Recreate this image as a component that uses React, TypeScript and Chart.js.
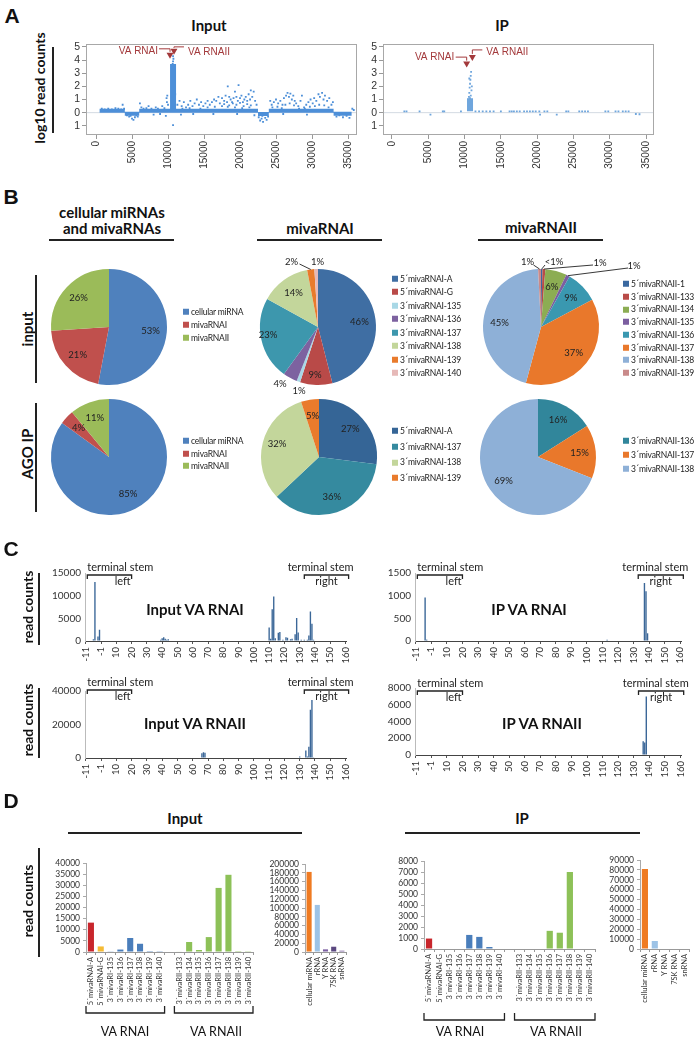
import React, { useEffect, useRef } from "react";
import { Chart, registerables } from "chart.js";

Chart.register(...registerables);

const LATO = "Lato, 'Open Sans', 'DejaVu Sans', sans-serif";
const ARIAL = "'Liberation Sans', Arial, sans-serif";
Chart.defaults.font.family = LATO;
Chart.defaults.color = "#333";

type Pt = [number, number];
type Rect = { l: number; t: number; w: number; h: number };
type Area = { x0: number; y0: number; x1: number; y1: number };

/* ================= Panel A : read coverage along the genome ================= */
const aXTicks = [0, 5000, 10000, 15000, 20000, 25000, 30000, 35000];
const aYTicks = [-1, 0, 1, 2, 3, 4, 5];
const aInputBand: Pt[][] = [
  [[500, 0.15], [4000, 0.15]],
  [[4000, -0.08], [6000, -0.08]],
  [[6000, 0.15], [22500, 0.15]],
  [[22500, -0.1], [24000, -0.1]],
  [[24000, 0.15], [33000, 0.15]],
  [[33000, -0.08], [35500, -0.08]],
];
const aInputPeak: Pt[] = [[10700, 0.2], [10700, 3.7]];
const aInputDots: Pt[] = [
  [800, 0.3], [1200, 0.25], [1700, 0.3], [2200, 0.25], [2700, 0.35], [3100, 0.3], [3500, 0.25], [3700, 0.6], [3900, 0.3],
  [4300, -0.2], [4600, -0.3], [4800, -0.25], [5000, -0.45], [5200, -0.55], [5400, -0.35], [5600, -0.2], [5800, -0.3],
  [6100, 0.7], [6300, 0.4], [6600, 0.3], [7000, 0.35], [7300, 0.5], [7700, 0.3], [8000, -0.15], [8300, 0.4], [8600, 0.3],
  [8900, -0.1], [9200, 0.5], [9500, 0.35], [9700, -0.25], [9800, 1.1], [9850, 0.8], [9900, 1.3], [10000, 0.6],
  [10500, 0.9], [10550, 1.5], [10600, 2.2], [10600, 2.8], [10650, 3.3], [10650, 3.7], [10700, 3.9], [10700, 4.3],
  [10750, 4.1], [10750, 3.5], [10800, 3.0], [10800, 2.5], [10850, 1.8], [10850, 1.2], [10900, 3.6], [10900, 0.7],
  [10950, 2.0], [11000, 1.4], [10700, -0.95],
  [11300, 0.6], [11600, 0.9], [11900, 0.5], [12200, 0.8], [12500, 0.4], [12800, 0.6], [13100, 0.9], [13400, 0.5],
  [13700, 0.7], [14000, 1.0], [14300, 0.6], [14600, 0.8], [14900, 0.5], [15200, 0.7], [15500, 0.9], [15800, 0.6],
  [16100, 0.8], [16400, 1.0], [16700, 0.9], [17000, 1.2], [17200, 0.7], [17500, 1.1], [17800, 0.9], [18000, 1.3],
  [18200, 0.8], [18300, 2.0], [18500, 1.2], [18700, 1.0], [18900, 0.8], [19100, 1.1], [19300, 1.6], [19500, 1.2],
  [19700, 0.9], [19800, 2.1], [20000, 1.1], [20200, 1.3], [20400, 0.8], [20600, 1.0], [20800, 1.2], [21000, 0.9],
  [21200, 1.4], [21400, 1.0], [21500, 1.7], [21700, 1.2], [21900, 1.6], [22100, 0.9], [22300, 0.6],
  [12000, 0.3], [13000, 0.35], [14500, 0.3], [15500, 0.4], [16500, 0.45], [17500, 0.5], [18500, 0.55], [19500, 0.6],
  [20500, 0.5], [21500, 0.55], [17800, 0.65], [19000, 0.7], [20000, 0.75], [21000, 0.65], [18300, 0.45], [19300, 0.4],
  [20300, 0.35], [21300, 0.4], [11800, -0.15], [13500, -0.1], [16300, -0.1], [19600, -0.1], [22000, -0.2],
  [22600, -0.35], [22800, -0.6], [23000, -0.45], [23200, -0.7], [23500, -0.4], [23700, -0.55], [23900, -0.3], [23100, -0.25],
  [24200, 0.9], [24400, 0.6], [24700, 0.8], [25000, 1.0], [25300, 0.7], [25600, 0.9], [25900, 0.6], [26100, 1.1],
  [26400, 1.3], [26600, 1.5], [26800, 1.2], [27000, 1.45], [27200, 1.0], [27400, 1.3], [27600, 0.9], [27800, 0.7],
  [28100, 0.5], [28400, 0.9], [28600, 1.3], [28900, 0.4], [29200, 0.6], [29500, 0.8], [29800, 1.0], [30100, 0.7],
  [30300, 1.1], [30600, 0.9], [30900, 1.4], [31100, 1.2], [31400, 1.5], [31600, 1.0], [31800, 1.3], [32100, 0.9],
  [32400, 1.1], [32700, 0.6], [32900, 0.8],
  [24500, 0.4], [25200, 0.45], [25800, 0.35], [26300, 0.6], [26900, 0.7], [27500, 0.55], [28200, 0.3], [29000, 0.3],
  [29700, 0.45], [30400, 0.5], [31000, 0.6], [31700, 0.55], [32300, 0.4], [26000, -0.1], [29300, -0.15],
  [33400, -0.3], [33800, -0.2], [34300, -0.35], [34800, -0.25], [35200, -0.4], [35600, 0.3], [35800, 0.2],
];
const aInputMarks: Pt[] = [[10280, 4.4], [10830, 4.7]];
const aIPPeak: Pt[] = [[10750, 0.1], [10750, 1.1]];
const aIPDots: Pt[] = [
  [10500, 0.2], [10500, 0.5], [10550, 0.8], [10550, 1.0], [10600, 0.6], [10600, 1.2], [10650, 0.9], [10650, 1.5],
  [10700, 0.7], [10700, 1.9], [10750, 1.1], [10750, 2.2], [10800, 0.5], [10800, 2.5], [10850, 1.3], [10850, 2.8],
  [10900, 0.9], [10900, 3.1], [10950, 1.7], [11000, 0.4], [11000, 2.0], [10600, 0.3], [10700, 0.4], [10650, 2.6],
  [1700, 0.1], [2000, 0.1], [3800, 0.1], [7000, 0.1], [7200, 0.1], [9500, 0.1], [11500, 0.1], [12000, 0.1],
  [12500, 0.1], [13000, 0.1], [13500, 0.1], [14000, 0.1], [15000, 0.1], [16200, 0.1], [16500, 0.1], [16800, 0.1],
  [17200, 0.1], [17600, 0.1], [18200, 0.1], [18600, 0.1], [19000, 0.1], [19400, 0.1], [19800, 0.1], [20300, 0.1],
  [21000, 0.1], [21400, 0.1], [24000, 0.1], [24300, 0.1], [25800, 0.1], [26200, 0.1], [26600, 0.1], [27000, 0.1],
  [29400, 0.1], [29800, 0.1], [30800, 0.1], [31200, 0.1], [31800, 0.1], [32200, 0.1], [32600, 0.1],
  [5300, -0.15], [20400, -0.15], [22700, -0.15], [33600, -0.1], [34100, -0.12],
];
const aIPMarks: Pt[] = [[10290, 3.73], [11070, 4.24]];
const aMarkNames = ["VA RNAI", "VA RNAII"];

/* ================= Panel B : pie charts ================= */
const b1Labels = ["cellular miRNA", "mivaRNAI", "mivaRNAII"];
const b1Colors = ["#4f81bd", "#c0504d", "#9bbb59"];
const b1Input = [53, 21, 26];
const b1IP = [85, 4, 11];

const b2InLabels = ["5´mivaRNAI-A", "5´mivaRNAI-G", "3´mivaRNAI-135", "3´mivaRNAI-136", "3´mivaRNAI-137", "3´mivaRNAI-138", "3´mivaRNAI-139", "3´mivaRNAI-140"];
const b2InColors = ["#3f6ea3", "#b94a48", "#a9d8e6", "#7d62a0", "#3d97ad", "#c3d69b", "#e97b2c", "#e6b9b8"];
const b2Input = [46, 9, 1, 4, 23, 14, 2, 1];
const b2IPLabels = ["5´mivaRNAI-A", "3´mivaRNAI-137", "3´mivaRNAI-138", "3´mivaRNAI-139"];
const b2IPColors = ["#356596", "#358a9f", "#c3d69b", "#e97b2c"];
const b2IP = [27, 36, 32, 5];

const b3InLabels = ["5´mivaRNAII-1", "3´mivaRNAII-133", "3´mivaRNAII-134", "3´mivaRNAII-135", "3´mivaRNAII-136", "3´mivaRNAII-137", "3´mivaRNAII-138", "3´mivaRNAII-139"];
const b3InColors = ["#3a68a0", "#b94b48", "#8cad53", "#7b5ea0", "#3a98b0", "#e9782b", "#8eb0d7", "#c98a8a"];
const b3Input = [0.4, 0.8, 6, 1, 9, 37, 45, 0.8];
const b3IPLabels = ["3´mivaRNAII-136", "3´mivaRNAII-137", "3´mivaRNAII-138"];
const b3IPColors = ["#31869b", "#e9782b", "#8eb0d7"];
const b3IP = [16, 15, 69];

/* ================= Panel C : read counts per position ================= */
const cPositions: number[] = [];
for (let p = -11; p <= 160; p++) if (p !== 0) cPositions.push(p);
const cInVA1Pos = [-6, -5, -3, -2, 39, 40, 41, 42, 43, 44, 110, 111, 112, 113, 114, 116, 117, 119, 121, 122, 124, 125, 127, 128, 129, 131, 133, 135, 136, 137, 138, 139];
const cInVA1Val = [400, 13000, 1000, 2500, 300, 600, 800, 500, 300, 400, 3000, 500, 7000, 9800, 600, 1800, 2000, 300, 800, 700, 400, 500, 1500, 5100, 1900, 300, 300, 300, 1200, 6500, 3800, 300];
const cIPVA1Pos = [-5, -4, 113, 137, 138, 139];
const cIPVA1Val = [960, 30, 30, 1280, 1100, 170];
const cInVA2Pos = [66, 67, 68, 112, 130, 134, 135, 136, 137, 138, 139];
const cInVA2Val = [2800, 3500, 3200, 300, 900, 4500, 900, 6700, 28800, 34700, 400];
const cIPVA2Pos = [136, 137, 138];
const cIPVA2Val = [1650, 1480, 7000];

/* ================= Panel D : read counts per species ================= */
const dMainLabels = ["5´mivaRNAI-A", "5´mivaRNAI-G", "3´mivaRI-135", "3´mivaRI-136", "3´mivaRI-137", "3´mivaRI-138", "3´mivaRI-139", "3´mivaRI-140", "",
  "3´mivaRII-133", "3´mivaRII-134", "3´mivaRII-135", "3´mivaRII-136", "3´mivaRII-137", "3´mivaRII-138", "3´mivaRII-139", "3´mivaRII-140"];
const dMainColors = ["#c8262c", "#f5bb35", "#4a7ebb", "#4a7ebb", "#4a7ebb", "#4a7ebb", "#4a7ebb", "#4a7ebb", "#fff",
  "#8dc158", "#8dc158", "#8dc158", "#8dc158", "#8dc158", "#8dc158", "#8dc158", "#8dc158"];
const dInMain = [13200, 2500, 300, 1100, 6300, 3700, 400, 100, null, 200, 4500, 900, 6700, 28800, 34700, 400, 100];
const dIPMain = [950, 0, 0, 0, 1280, 1100, 180, 0, null, 0, 0, 0, 1650, 1480, 7000, 0, 0];
const dSideLabels = ["cellular miRNA", "rRNA", "Y RNA", "7SK RNA", "snRNA"];
const dSideColors = ["#ef7b22", "#9dc3e6", "#7b5fa1", "#5b4880", "#8064a2"];
const dInSide = [182000, 107000, 6000, 12000, 3000];
const dIPSide = [81000, 8000, 0, 0, 0];

/* ================= helpers ================= */
function fit(c: Rect, a: Area) {
  return {
    padding: { left: 0, top: a.y0 - c.t, right: c.l + c.w - a.x1, bottom: 0 },
    yW: a.x0 - c.l,
    xH: c.t + c.h - a.y1,
  };
}

function flatSegs(segs: Pt[][]) {
  const out: any[] = [];
  segs.forEach((s) => {
    s.forEach(([x, y]) => out.push({ x, y }));
    out.push({ x: s[s.length - 1][0], y: null });
  });
  return out;
}
const xy = (a: Pt[]) => a.map(([x, y]) => ({ x, y }));

type MarkStyle = { side: "l" | "r"; lineDy: number; textDx: number; textDy: number };

function coverageConfig(c: Rect, a: Area, xmin: number, xmax: number, band: Pt[][] | null, peak: Pt[], dots: Pt[], marks: Pt[], ms: MarkStyle[], col: string) {
  const f = fit(c, a);
  const RED = "#a3393b";
  const deco = {
    id: "covDeco",
    beforeDatasetsDraw(chart: any) {
      const { ctx, chartArea: ca, scales } = chart;
      const y0 = scales.y.getPixelForValue(0);
      ctx.save();
      ctx.strokeStyle = "#d3dae2";
      ctx.lineWidth = 1;
      ctx.beginPath();
      ctx.moveTo(ca.left, y0);
      ctx.lineTo(ca.right, y0);
      ctx.stroke();
      ctx.restore();
    },
    afterDraw(chart: any) {
      const { ctx, chartArea: ca } = chart;
      ctx.save();
      ctx.strokeStyle = "#a8a8a8";
      ctx.lineWidth = 1;
      ctx.strokeRect(Math.round(ca.left) + 0.5, Math.round(ca.top) + 0.5, Math.round(ca.right - ca.left) - 1, Math.round(ca.bottom - ca.top) - 1);
      const meta = chart.getDatasetMeta(3);
      ctx.strokeStyle = RED;
      ctx.fillStyle = RED;
      ctx.lineWidth = 1;
      ctx.font = `10px ${ARIAL}`;
      ctx.textBaseline = "middle";
      meta.data.forEach((pt: any, i: number) => {
        const s = ms[i];
        const tx = pt.x, ty = pt.y;
        ctx.beginPath();
        if (s.side === "l") {
          ctx.moveTo(tx - 11, ty + s.lineDy);
          ctx.lineTo(tx, ty + s.lineDy);
          ctx.lineTo(tx, ty - 3);
          ctx.textAlign = "right";
        } else {
          ctx.moveTo(tx, ty - 3);
          ctx.lineTo(tx, ty + s.lineDy);
          ctx.lineTo(tx + 10, ty + s.lineDy);
          ctx.textAlign = "left";
        }
        ctx.stroke();
        ctx.fillText(aMarkNames[i], tx + s.textDx, ty + s.textDy);
      });
      ctx.restore();
    },
  };
  return {
    type: "scatter",
    data: {
      datasets: [
        { data: band ? flatSegs(band) : [], showLine: true, spanGaps: false, borderColor: col, borderWidth: 4, pointRadius: 0 },
        { data: xy(peak), showLine: true, borderColor: col, borderWidth: 6, pointRadius: 0 },
        { data: xy(dots), pointRadius: 1.3, pointStyle: "rect", backgroundColor: col, borderWidth: 0 },
        { data: xy(marks), pointStyle: "triangle", rotation: 180, pointRadius: 4, backgroundColor: RED, borderWidth: 0 },
      ],
    },
    options: {
      responsive: false,
      animation: false,
      layout: { padding: f.padding },
      plugins: { legend: { display: false }, tooltip: { enabled: false } },
      scales: {
        x: {
          type: "linear", min: xmin, max: xmax,
          afterFit: (s: any) => { s.height = f.xH; },
          afterBuildTicks: (s: any) => { s.ticks = aXTicks.map((v) => ({ value: v })); },
          ticks: { autoSkip: false, minRotation: 90, maxRotation: 90, font: { family: ARIAL, size: 10 }, color: "#333", padding: 2, callback: (v: any) => String(v) },
          grid: { drawOnChartArea: false, tickLength: 4, color: "#999" },
          border: { display: false },
        },
        y: {
          min: -1.7, max: 5.2,
          afterFit: (s: any) => { s.width = f.yW; },
          afterBuildTicks: (s: any) => { s.ticks = aYTicks.map((v) => ({ value: v })); },
          ticks: { autoSkip: false, font: { family: ARIAL, size: 10.5 }, color: "#333", padding: 2, callback: (v: any) => String(Math.abs(v)) },
          grid: { drawOnChartArea: false, tickLength: 4, color: "#999" },
          border: { display: false },
        },
      },
    },
    plugins: [deco],
  };
}

type PieLay = { out?: Record<number, number[]>; at?: Record<number, number[]> };

function pieConfig(values: number[], colors: string[], lay: PieLay) {
  const texts = values.map((v) => (v < 0.5 ? "<1%" : Math.round(v) + "%"));
  const lab = {
    id: "pieLab",
    afterDatasetsDraw(chart: any) {
      const ctx = chart.ctx;
      ctx.save();
      ctx.font = `9.5px ${LATO}`;
      ctx.fillStyle = "#222";
      ctx.strokeStyle = "#222";
      ctx.lineWidth = 0.9;
      ctx.textAlign = "center";
      ctx.textBaseline = "middle";
      chart.getDatasetMeta(0).data.forEach((arc: any, i: number) => {
        const p = arc.getProps(["x", "y", "startAngle", "endAngle", "outerRadius"], true);
        const mid = (p.startAngle + p.endAngle) / 2;
        const ex = p.x + Math.cos(mid) * p.outerRadius;
        const ey = p.y + Math.sin(mid) * p.outerRadius;
        let lx: number, ly: number;
        const o = lay.out && lay.out[i];
        const at = lay.at && lay.at[i];
        if (o) {
          lx = p.x + o[0];
          ly = p.y + o[1];
          if (o.length > 2) {
            ctx.beginPath();
            ctx.moveTo(lx + o[2], ly + o[3]);
            ctx.lineTo(ex, ey);
            ctx.stroke();
          }
        } else if (at) {
          lx = p.x + at[0];
          ly = p.y + at[1];
        } else {
          lx = p.x + Math.cos(mid) * p.outerRadius * 0.72;
          ly = p.y + Math.sin(mid) * p.outerRadius * 0.72;
        }
        ctx.fillText(texts[i], lx, ly);
      });
      ctx.restore();
    },
  };
  return {
    type: "pie",
    data: { labels: values.map((_, i) => String(i)), datasets: [{ data: values, backgroundColor: colors, borderWidth: 0 }] },
    options: {
      responsive: false,
      animation: false,
      layout: { padding: 62 },
      plugins: { legend: { display: false }, tooltip: { enabled: false } },
    },
    plugins: [lab],
  };
}

type Brk = { from: number; to: number; side: "l" | "r" };
const cBrackets: Brk[] = [
  { from: 1, to: 30, side: "l" },
  { from: 143, to: 172, side: "r" },
];

function posConfig(c: Rect, a: Area, pos: number[], val: number[], ymax: number, step: number, brkDy: number) {
  const f = fit(c, a);
  const data = cPositions.map((p) => {
    const k = pos.indexOf(p);
    return k >= 0 ? val[k] : 0;
  });
  const brk = {
    id: "brk",
    afterDraw(chart: any) {
      const { ctx, chartArea: ca, scales } = chart;
      const p0 = scales.x.getPixelForValue(0);
      const st = scales.x.getPixelForValue(1) - p0;
      const y = ca.top + brkDy;
      ctx.save();
      ctx.strokeStyle = "#222";
      ctx.fillStyle = "#222";
      ctx.lineWidth = 1.3;
      ctx.textBaseline = "middle";
      cBrackets.forEach((b) => {
        const xa = p0 + b.from * st, xb = p0 + b.to * st;
        ctx.beginPath();
        ctx.moveTo(xa, y + 4);
        ctx.lineTo(xa, y);
        ctx.lineTo(xb, y);
        ctx.lineTo(xb, y + 4);
        ctx.stroke();
        ctx.font = `11px ${LATO}`;
        if (b.side === "l") {
          ctx.textAlign = "left";
          ctx.fillText("terminal stem", xa, y - 8);
          ctx.textAlign = "right";
          ctx.fillText("left", xb - 1, y + 6);
        } else {
          ctx.textAlign = "right";
          ctx.fillText("terminal stem", xb + 5, y - 8);
          ctx.textAlign = "center";
          ctx.fillText("right", (xa + xb) / 2, y + 6);
        }
      });
      ctx.restore();
    },
  };
  return {
    type: "bar",
    data: { labels: cPositions.map(String), datasets: [{ data, backgroundColor: "#3b6798", barPercentage: 0.9, categoryPercentage: 1 }] },
    options: {
      responsive: false,
      animation: false,
      layout: { padding: f.padding },
      plugins: { legend: { display: false }, tooltip: { enabled: false } },
      scales: {
        x: {
          afterFit: (s: any) => { s.height = f.xH; },
          ticks: {
            autoSkip: false, minRotation: 90, maxRotation: 90, font: { size: 9.5 }, color: "#333", padding: 3,
            callback: (_v: any, i: number) => (i % 10 === 0 ? String(cPositions[i]) : ""),
          },
          grid: { offset: false, drawOnChartArea: false, tickLength: 3, color: (ctx: any) => (ctx.index % 10 === 0 ? "#555" : "rgba(0,0,0,0)") },
          border: { color: "#444", width: 1 },
        },
        y: {
          min: 0, max: ymax,
          afterFit: (s: any) => { s.width = f.yW; },
          ticks: { autoSkip: false, stepSize: step, font: { size: 10 }, color: "#333", padding: 4, callback: (v: any) => String(v) },
          grid: { drawOnChartArea: false, tickLength: 0 },
          border: { color: "#bbb" },
        },
      },
    },
    plugins: [brk],
  };
}

function speciesConfig(c: Rect, a: Area, labels: string[], values: any[], colors: string[], ymax: number, step: number, groups: number[][] | null, gDy: number) {
  const f = fit(c, a);
  const grp = {
    id: "grp",
    afterDraw(chart: any) {
      if (!groups) return;
      const { ctx, chartArea: ca, scales } = chart;
      const p0 = scales.x.getPixelForValue(0);
      const st = scales.x.getPixelForValue(1) - p0;
      const y = ca.bottom + gDy;
      ctx.save();
      ctx.strokeStyle = "#222";
      ctx.lineWidth = 1.3;
      groups.forEach(([g0, g1]) => {
        const xa = p0 + (g0 - 0.5) * st, xb = p0 + (g1 + 0.5) * st;
        ctx.beginPath();
        ctx.moveTo(xa, y - 7);
        ctx.lineTo(xa, y);
        ctx.lineTo(xb, y);
        ctx.lineTo(xb, y - 7);
        ctx.stroke();
      });
      ctx.restore();
    },
  };
  return {
    type: "bar",
    data: { labels, datasets: [{ data: values, backgroundColor: colors, barPercentage: 0.62, categoryPercentage: 1 }] },
    options: {
      responsive: false,
      animation: false,
      layout: { padding: f.padding },
      plugins: { legend: { display: false }, tooltip: { enabled: false } },
      scales: {
        x: {
          afterFit: (s: any) => { s.height = f.xH; },
          ticks: { autoSkip: false, minRotation: 90, maxRotation: 90, font: { size: 7.5 }, color: "#333", padding: 2 },
          grid: { offset: true, drawOnChartArea: false, tickLength: 3, color: "#999" },
          border: { color: "#999" },
        },
        y: {
          min: 0, max: ymax,
          afterFit: (s: any) => { s.width = f.yW; },
          ticks: { autoSkip: false, stepSize: step, font: { size: 8.5 }, color: "#333", padding: 3, callback: (v: any) => String(v) },
          grid: { drawOnChartArea: false, tickLength: 3, color: "#aaa" },
          border: { color: "#aaa" },
        },
      },
    },
    plugins: [grp],
  };
}

/* ================= React pieces ================= */
function ChartBox({ r, build }: { r: Rect; build: () => any }) {
  const ref = useRef<HTMLCanvasElement>(null);
  useEffect(() => {
    const ch = new Chart(ref.current as HTMLCanvasElement, build());
    return () => ch.destroy();
  }, []);
  return <canvas ref={ref} width={r.w} height={r.h} style={{ position: "absolute", left: r.l, top: r.t, width: r.w, height: r.h }} />;
}

function Txt({ x, y, s, b = false, rot = false, f = LATO, c = "#111", children }: any) {
  return (
    <div style={{ position: "absolute", left: x, top: y, transform: `translate(-50%,-50%)${rot ? " rotate(-90deg)" : ""}`, font: `${b ? "bold " : ""}${s}px ${f}`, color: c, whiteSpace: "nowrap", lineHeight: 1 }}>
      {children}
    </div>
  );
}
function HL({ x0, x1, y, w = 1.5 }: any) {
  return <div style={{ position: "absolute", left: x0, top: y - w / 2, width: x1 - x0, height: w, background: "#222" }} />;
}
function VL({ x, y0, y1, w = 1.5 }: any) {
  return <div style={{ position: "absolute", left: x - w / 2, top: y0, width: w, height: y1 - y0, background: "#222" }} />;
}
function Legend({ x, y, step, labels, colors }: any) {
  return (
    <>
      {labels.map((l: string, i: number) => (
        <div key={i} style={{ position: "absolute", left: x, top: y + i * step, transform: "translateY(-50%)", display: "flex", alignItems: "center", font: `8.5px ${LATO}`, letterSpacing: "-0.2px", color: "#222", whiteSpace: "nowrap", lineHeight: 1 }}>
          <span style={{ display: "inline-block", width: 6, height: 6, background: colors[i], marginRight: 2 }} />
          {l}
        </div>
      ))}
    </>
  );
}

const pieRect = (cx: number, cy: number): Rect => ({ l: cx - 120, t: cy - 120, w: 240, h: 240 });

export default function App() {
  const rA1: Rect = { l: 50, t: 36, w: 330, h: 140 };
  const rA2: Rect = { l: 350, t: 36, w: 330, h: 140 };
  const rC1: Rect = { l: 40, t: 555, w: 320, h: 115 };
  const rC2: Rect = { l: 355, t: 555, w: 340, h: 115 };
  const rC3: Rect = { l: 40, t: 672, w: 320, h: 115 };
  const rC4: Rect = { l: 355, t: 670, w: 340, h: 115 };
  const rD1: Rect = { l: 40, t: 850, w: 225, h: 188 };
  const rD2: Rect = { l: 262, t: 850, w: 95, h: 165 };
  const rD3: Rect = { l: 380, t: 848, w: 225, h: 190 };
  const rD4: Rect = { l: 596, t: 848, w: 100, h: 165 };
  return (
    <div style={{ position: "absolute", left: 0, top: 0, width: 700, height: 1038, overflow: "hidden", background: "#fff" }}>
      {/* ---- A ---- */}
      <Txt x={12} y={15} s={21} b f={ARIAL}>A</Txt>
      <Txt x={40} y={88} s={14} b rot>log10 read counts</Txt>
      <VL x={53} y0={47} y1={133} />
      <Txt x={209} y={25} s={15} b>Input</Txt>
      <Txt x={502} y={25} s={15} b>IP</Txt>
      <ChartBox r={rA1} build={() => coverageConfig(rA1, { x0: 86, y0: 43, x1: 357, y1: 135 }, -1390, 36250, aInputBand, aInputPeak, aInputDots, aInputMarks,
        [{ side: "l", lineDy: -6, textDx: -12, textDy: -3.5 }, { side: "r", lineDy: -4, textDx: 14, textDy: 1.2 }], "#4d8fd8")} />
      <ChartBox r={rA2} build={() => coverageConfig(rA2, { x0: 383, y0: 43, x1: 654, y1: 135 }, -1240, 36100, null, aIPPeak, aIPDots, aIPMarks,
        [{ side: "l", lineDy: -6.5, textDx: -12.5, textDy: -6.5 }, { side: "r", lineDy: -7, textDx: 14, textDy: -5 }], "#6fa6dd")} />

      {/* ---- B ---- */}
      <Txt x={11} y={196} s={21} b f={ARIAL}>B</Txt>
      <Txt x={112} y={212} s={15} b>cellular miRNAs</Txt>
      <Txt x={112} y={228} s={15} b>and mivaRNAs</Txt>
      <Txt x={320} y={228} s={15} b>mivaRNAI</Txt>
      <Txt x={541} y={227} s={15} b>mivaRNAII</Txt>
      <HL x0={49} x1={174} y={240} />
      <HL x0={257} x1={382} y={240} />
      <HL x0={478} x1={603} y={240} />
      <Txt x={27} y={329} s={15} b rot>input</Txt>
      <VL x={36} y0={275} y1={383} />
      <Txt x={27} y={454} s={15} b rot>AGO IP</Txt>
      <VL x={36} y0={403} y1={512} />

      <ChartBox r={pieRect(109, 327)} build={() => pieConfig(b1Input, b1Colors, {})} />
      <ChartBox r={pieRect(109, 457)} build={() => pieConfig(b1IP, b1Colors, {})} />
      <ChartBox r={pieRect(318, 327)} build={() => pieConfig(b2Input, b2InColors, {
        out: { 6: [-26.5, -65, 8, 2], 7: [-0.5, -65], 3: [-38, 57], 2: [-19, 64] },
        at: { 4: [-50, 8], 1: [-3, 48] },
      })} />
      <ChartBox r={pieRect(319, 457)} build={() => pieConfig(b2IP, b2IPColors, { at: { 2: [-42, -13] } })} />
      <ChartBox r={pieRect(541, 327)} build={() => pieConfig(b3Input, b3InColors, {
        out: { 7: [-13.5, -65, 6, 3], 0: [13, -65, -9, 3], 1: [59, -64, -7, 2], 3: [93, -61, -6, 2] },
      })} />
      <ChartBox r={pieRect(538, 457)} build={() => pieConfig(b3IP, b3IPColors, {})} />

      <Legend x={183} y={312} step={13} labels={b1Labels} colors={b1Colors} />
      <Legend x={183} y={441} step={12.5} labels={b1Labels} colors={b1Colors} />
      <Legend x={392} y={278.5} step={13.5} labels={b2InLabels} colors={b2InColors} />
      <Legend x={392} y={431} step={15.7} labels={b2IPLabels} colors={b2IPColors} />
      <Legend x={623} y={284} step={12.7} labels={b3InLabels} colors={b3InColors} />
      <Legend x={623} y={441} step={14} labels={b3IPLabels} colors={b3IPColors} />

      {/* ---- C ---- */}
      <Txt x={11} y={548} s={21} b f={ARIAL}>C</Txt>
      <Txt x={28} y={607} s={14} b rot>read counts</Txt>
      <VL x={39} y0={573} y1={645} />
      <Txt x={28} y={720} s={14} b rot>read counts</Txt>
      <VL x={39} y0={688} y1={758} />
      <ChartBox r={rC1} build={() => posConfig(rC1, { x0: 85, y0: 573, x1: 347, y1: 641 }, cInVA1Pos, cInVA1Val, 15000, 5000, 2)} />
      <ChartBox r={rC2} build={() => posConfig(rC2, { x0: 415, y0: 573, x1: 681, y1: 641 }, cIPVA1Pos, cIPVA1Val, 1500, 500, 2)} />
      <ChartBox r={rC3} build={() => posConfig(rC3, { x0: 85, y0: 691, x1: 347, y1: 758 }, cInVA2Pos, cInVA2Val, 40000, 20000, -1)} />
      <ChartBox r={rC4} build={() => posConfig(rC4, { x0: 415, y0: 688, x1: 684, y1: 755 }, cIPVA2Pos, cIPVA2Val, 8000, 2000, 3)} />
      <Txt x={195} y={609} s={15} b>Input VA RNAI</Txt>
      <Txt x={529} y={609} s={15} b>IP VA RNAI</Txt>
      <Txt x={195} y={723} s={15} b>Input VA RNAII</Txt>
      <Txt x={542} y={723} s={15} b>IP VA RNAII</Txt>

      {/* ---- D ---- */}
      <Txt x={11} y={800} s={21} b f={ARIAL}>D</Txt>
      <Txt x={185} y={818} s={15} b>Input</Txt>
      <HL x0={68} x1={302} y={833} />
      <Txt x={522} y={818} s={15} b>IP</Txt>
      <HL x0={405} x1={640} y={833} />
      <Txt x={28} y={901} s={14} b rot>read counts</Txt>
      <VL x={39} y0={848} y1={957} />
      <ChartBox r={rD1} build={() => speciesConfig(rD1, { x0: 86, y0: 863, x1: 253, y1: 952 }, dMainLabels, dInMain, dMainColors, 40000, 5000, [[0, 7], [9, 16]], 61)} />
      <ChartBox r={rD2} build={() => speciesConfig(rD2, { x0: 305, y0: 864, x1: 346, y1: 952 }, dSideLabels, dInSide, dSideColors, 200000, 20000, null, 0)} />
      <ChartBox r={rD3} build={() => speciesConfig(rD3, { x0: 424, y0: 861, x1: 595, y1: 949 }, dMainLabels, dIPMain, dMainColors, 8000, 1000, [[0, 7], [9, 16]], 71)} />
      <ChartBox r={rD4} build={() => speciesConfig(rD4, { x0: 640, y0: 860, x1: 690, y1: 949 }, dSideLabels, dIPSide, dSideColors, 90000, 10000, null, 0)} />
      <Txt x={125} y={1032} s={12.5}>VA RNAI</Txt>
      <Txt x={216} y={1032} s={12.5}>VA RNAII</Txt>
      <Txt x={460} y={1032} s={12.5}>VA RNAI</Txt>
      <Txt x={556} y={1032} s={12.5}>VA RNAII</Txt>
    </div>
  );
}
